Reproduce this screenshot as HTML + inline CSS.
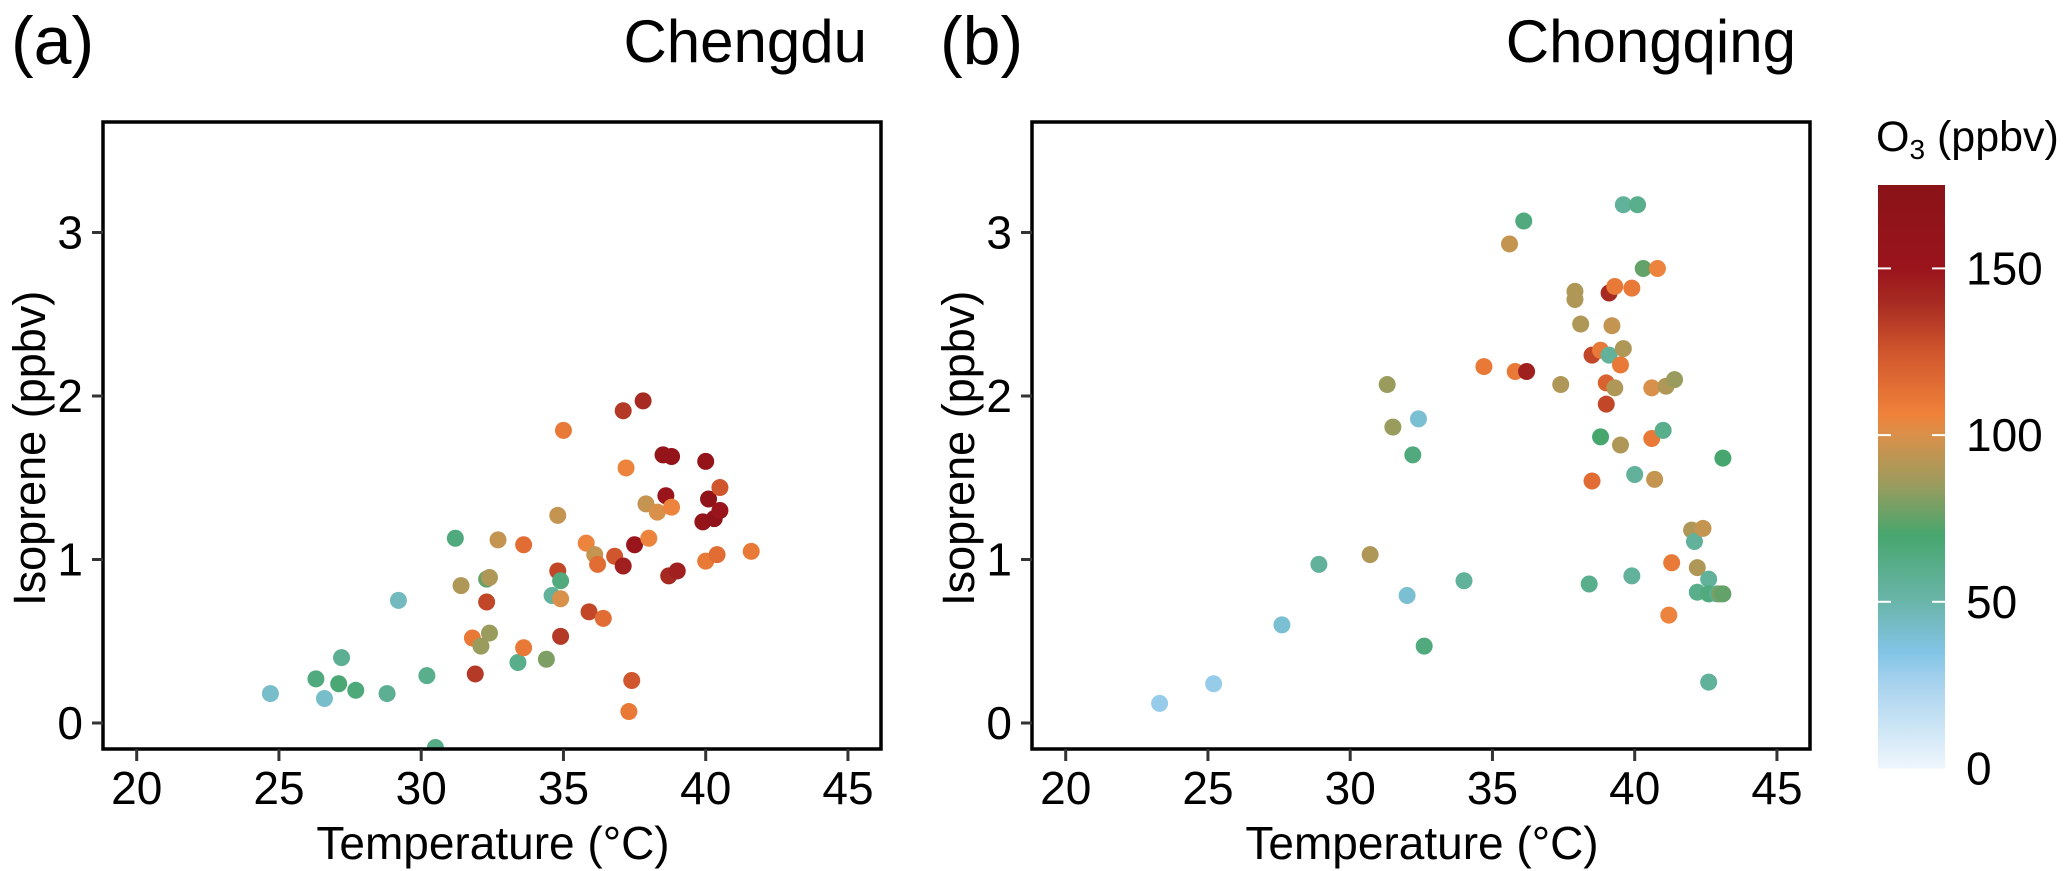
<!DOCTYPE html>
<html><head><meta charset="utf-8"><style>
html,body{margin:0;padding:0;background:#fff;}
svg{display:block;font-family:"Liberation Sans",Arial,sans-serif;}
</style></head><body>
<svg id="fig" width="2067" height="871" viewBox="0 0 2067 871" xmlns="http://www.w3.org/2000/svg">
<defs>
<linearGradient id="cbg" x1="0" y1="1" x2="0" y2="0">
<stop offset="0" stop-color="#eef6fc"/>
<stop offset="0.143" stop-color="#a9d3ee"/>
<stop offset="0.2" stop-color="#82c4e6"/>
<stop offset="0.286" stop-color="#6ab5aa"/>
<stop offset="0.4" stop-color="#47a66e"/>
<stop offset="0.486" stop-color="#9a9c5e"/>
<stop offset="0.571" stop-color="#d9904a"/>
<stop offset="0.606" stop-color="#f0823a"/>
<stop offset="0.714" stop-color="#d0562d"/>
<stop offset="0.8" stop-color="#a62a22"/>
<stop offset="0.857" stop-color="#9a141c"/>
<stop offset="1" stop-color="#8a1318"/>
</linearGradient>
</defs>
<g id="marks"></g>
<g id="axes"></g>
</svg>
<script>
// ---- data ----
const tempA = [24.7,26.3,26.6,27.1,27.2,27.7,28.8,29.2,30.2,30.5,31.2,31.4,31.8,31.9,32.1,32.3,32.3,32.4,32.4,32.7,33.4,33.6,33.6,34.4,34.6,34.8,34.8,34.9,34.9,34.9,35.0,35.8,35.9,36.1,36.2,36.4,36.8,37.1,37.2,37.1,37.3,37.4,37.5,37.8,37.9,38.0,38.3,38.5,38.6,38.8,38.8,38.7,39.0,39.9,40.0,40.0,40.1,40.3,40.4,40.5,40.5,41.6];
const isoA = [0.18,0.27,0.15,0.24,0.40,0.20,0.18,0.75,0.29,-0.15,1.13,0.84,0.52,0.30,0.47,0.88,0.74,0.89,0.55,1.12,0.37,1.09,0.46,0.39,0.78,0.93,1.27,0.53,0.87,0.76,1.79,1.10,0.68,1.03,0.97,0.64,1.02,1.91,1.56,0.96,0.07,0.26,1.09,1.97,1.34,1.13,1.29,1.64,1.39,1.32,1.63,0.90,0.93,1.23,1.60,0.99,1.37,1.25,1.03,1.44,1.30,1.05];
const o3A = [42,65,42,68,58,66,58,45,60,62,65,90,110,135,85,75,130,90,85,95,60,115,110,80,55,130,95,135,65,100,110,105,130,95,115,115,125,135,105,145,110,125,150,140,95,105,100,160,150,105,160,140,145,160,160,110,165,165,115,125,150,110];
const tempB = [23.3,25.2,27.6,28.9,30.7,31.3,31.5,32.0,32.2,32.4,32.6,34.0,34.7,35.6,35.8,36.1,36.2,37.4,37.9,37.9,38.1,38.4,38.5,38.5,38.8,38.8,39.0,39.0,39.1,39.1,39.2,39.3,39.3,39.5,39.5,39.6,39.6,39.9,39.9,40.0,40.1,40.3,40.6,40.6,40.7,40.8,41.0,41.1,41.2,41.3,41.4,42.0,42.1,42.2,42.2,42.4,42.6,42.6,42.6,42.9,43.0,43.1,43.1];
const isoB = [0.12,0.24,0.60,0.97,1.03,2.07,1.81,0.78,1.64,1.86,0.47,0.87,2.18,2.93,2.15,3.07,2.15,2.07,2.64,2.59,2.44,0.85,1.48,2.25,2.28,1.75,2.08,1.95,2.63,2.25,2.43,2.67,2.05,2.19,1.70,2.29,3.17,2.66,0.90,1.52,3.17,2.78,2.05,1.74,1.49,2.78,1.79,2.06,0.66,0.98,2.10,1.18,1.11,0.95,0.80,1.19,0.88,0.25,0.79,0.79,0.79,1.62,0.79];
const o3B = [30,30,40,55,90,85,85,40,65,40,65,55,110,95,110,65,145,90,90,90,90,60,115,130,110,70,120,130,140,55,95,110,90,110,90,90,55,110,55,55,60,75,100,110,95,105,60,90,105,110,85,90,55,90,60,95,55,55,65,60,80,70,75];
const xTicks = [20,25,30,35,40,45];
const yTicks = [0,1,2,3];
const cbTicks = [0,50,100,150];

// ---- colormap ----
const cstops=[[0,[238,246,252]],[25,[169,211,238]],[35,[130,196,230]],[50,[106,181,170]],[70,[71,166,110]],[85,[154,156,94]],[100,[217,144,74]],[106,[240,130,58]],[125,[208,86,45]],[140,[166,42,34]],[150,[154,20,28]],[175,[138,19,24]]];
function cmap(v){v=Math.max(0,Math.min(175,v));for(let i=1;i<cstops.length;i++){if(v<=cstops[i][0]){const a=cstops[i-1],b=cstops[i];const t=(v-a[0])/(b[0]-a[0]);const c=a[1].map((x,k)=>Math.round(x+(b[1][k]-x)*t));return `rgb(${c.join(',')})`;}}return 'rgb(138,19,24)';}

const NS='http://www.w3.org/2000/svg';
const marksG=document.getElementById('marks'), axesG=document.getElementById('axes');
function mk(tag,attrs,parent){const e=document.createElementNS(NS,tag);for(const k in attrs)e.setAttribute(k,attrs[k]);parent.appendChild(e);return e;}

const plotTop=122, plotBottom=749, y0=723, yPer=163.5, xPer=28.45;
function panel(off,temps,isos,o3s,letter,city,key){
  const left=103+off, right=881+off;
  const x=t=>136.7+off+(t-20)*xPer;
  const y=v=>y0-v*yPer;
  const g=mk('g',{},marksG);
  
  
  const cp=mk('clipPath',{id:'clip'+key},g);
  mk('rect',{x:left,y:plotTop,width:right-left,height:plotBottom-plotTop},cp);
  const inner=mk('g',{'clip-path':`url(#clip${key})`},g);
  temps.forEach((t,i)=>{
    const c=mk('circle',{cx:x(t),cy:y(isos[i]),r:8.5,fill:cmap(o3s[i])},inner);
    
    
  });
  const ax=mk('g',{},axesG);
  const box=mk('rect',{x:left,y:plotTop,width:right-left,height:plotBottom-plotTop,fill:'none',stroke:'#000','stroke-width':3.5},ax);
  
  
  xTicks.forEach(t=>{
    mk('line',{x1:x(t),x2:x(t),y1:plotBottom,y2:plotBottom+12,stroke:'#333','stroke-width':3},ax);
    const tx=mk('text',{x:x(t),y:804,'font-size':46,'text-anchor':'middle'},ax);tx.textContent=t;
    
    
  });
  yTicks.forEach(v=>{
    mk('line',{x1:left-11,x2:left,y1:y(v),y2:y(v),stroke:'#333','stroke-width':3},ax);
    const tx=mk('text',{x:left-20,y:y(v)+16,'font-size':46,'text-anchor':'end'},ax);tx.textContent=v;
    
    
  });
  const xt=mk('text',{x:(left+right)/2+1,y:859,'font-size':46,'text-anchor':'middle'},ax);xt.textContent='Temperature (°C)';
  
  
  const yt=mk('text',{x:0,y:0,'font-size':45,'text-anchor':'middle',transform:`translate(${left-58},${y(1.68)}) rotate(-90)`},ax);yt.textContent='Isoprene (ppbv)';
  
  
  const pl=mk('text',{x:left-92,y:64,'font-size':68},ax);pl.textContent=letter;
  
  
  const ct=mk('text',{x:right-14,y:62,'font-size':60,'text-anchor':'end'},ax);ct.textContent=city;
  
  
}
panel(0,tempA,isoA,o3A,'(a)','Chengdu','chengdu');
panel(929,tempB,isoB,o3B,'(b)','Chongqing','chongqing');

// colorbar
const cb=mk('g',{},axesG);


const cbTop=185, cb0=768.5, cbPer=3.334, cbL=1878, cbR=1945;
mk('rect',{x:cbL,y:cbTop,width:cbR-cbL,height:cb0-cbTop,fill:'url(#cbg)'},cb);
cbTicks.forEach(v=>{
  const yy=cb0-v*cbPer;
  if(v>0){
    mk('line',{x1:cbL,x2:cbL+13,y1:yy,y2:yy,stroke:'#fff','stroke-width':2},cb);
    mk('line',{x1:cbR-13,x2:cbR,y1:yy,y2:yy,stroke:'#fff','stroke-width':2},cb);
  }
  const t=mk('text',{x:1966,y:yy+16,'font-size':46},cb);t.textContent=v;
  
  
});
const ot=mk('text',{x:1876,y:151,'font-size':43},cb);


ot.innerHTML='O<tspan font-size="28" dy="8">3</tspan><tspan dy="-8"> (ppbv)</tspan>';
</script>
</body></html>
